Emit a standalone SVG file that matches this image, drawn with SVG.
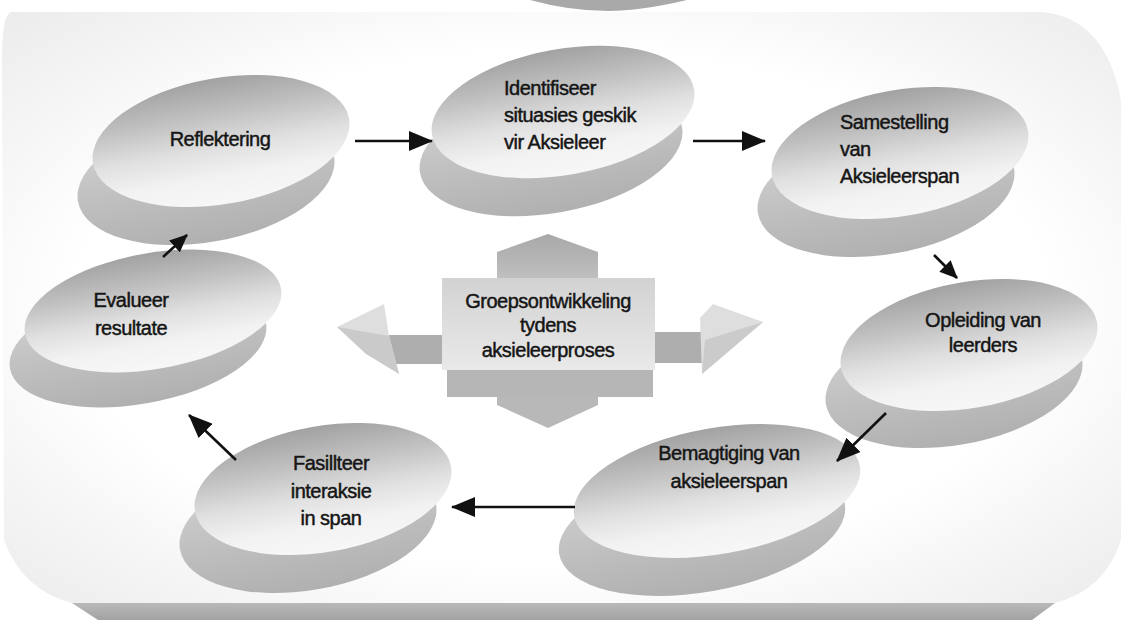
<svg xmlns="http://www.w3.org/2000/svg" width="1121" height="620" viewBox="0 0 1121 620">
<style>
  .lbl { font-family: "Liberation Sans", Arial, sans-serif; font-size: 20px; fill: #151515; stroke: #151515; stroke-width: 0.45; letter-spacing: -0.5px; }
  .mid { text-anchor: middle; }
  .conn { stroke: #111; stroke-width: 2.6; fill: none; }
  .side { fill: url(#gSide); }
  .top { fill: url(#gTop); }
</style>
<defs>
  <radialGradient id="gPlat" cx="50%" cy="50%" r="70%">
    <stop offset="0.62" stop-color="#ffffff"/>
    <stop offset="0.85" stop-color="#f3f3f3"/>
    <stop offset="1" stop-color="#ececec"/>
  </radialGradient>
  <linearGradient id="gBand" x1="0" y1="0" x2="0" y2="1">
    <stop offset="0" stop-color="#b9b9b9"/>
    <stop offset="1" stop-color="#a2a2a2"/>
  </linearGradient>
  <linearGradient id="gTop" x1="0" y1="0" x2="0" y2="1">
    <stop offset="0" stop-color="#a2a2a2"/>
    <stop offset="0.3" stop-color="#c2c2c2"/>
    <stop offset="0.55" stop-color="#e0e0e0"/>
    <stop offset="0.78" stop-color="#f2f2f2"/>
    <stop offset="1" stop-color="#f7f7f7"/>
  </linearGradient>
  <linearGradient id="gSide" x1="0" y1="0" x2="0" y2="1">
    <stop offset="0" stop-color="#d2d2d2"/>
    <stop offset="0.6" stop-color="#bdbdbd"/>
    <stop offset="1" stop-color="#b0b0b0"/>
  </linearGradient>
  <linearGradient id="gBox" x1="0" y1="0" x2="0" y2="1">
    <stop offset="0" stop-color="#d2d2d2"/>
    <stop offset="1" stop-color="#e9e9e9"/>
  </linearGradient>
  <linearGradient id="gUp" x1="0" y1="0" x2="0" y2="1">
    <stop offset="0" stop-color="#a8a8a8"/>
    <stop offset="1" stop-color="#c0c0c0"/>
  </linearGradient>
  <marker id="ahBig" viewBox="0 0 24 20" markerWidth="24" markerHeight="20" refX="23" refY="10" orient="auto" markerUnits="userSpaceOnUse">
    <path d="M0,0 L24,10 L0,20 Z" fill="#111"/>
  </marker>
  <marker id="ahSmall" viewBox="0 0 18 16" markerWidth="18" markerHeight="16" refX="17" refY="8" orient="auto" markerUnits="userSpaceOnUse">
    <path d="M0,0 L18,8 L0,16 Z" fill="#111"/>
  </marker>
</defs>

<rect x="0" y="0" width="1121" height="620" fill="#ffffff"/>

<!-- background platform -->
<g id="platform">
  <path d="M 12 12 L 1040 12 Q 1105 16 1121 100 L 1121 540 Q 1105 590 1055 603 L 72 603 Q 22 590 4 540 L 2 60 Q 2 12 12 12 Z" fill="url(#gPlat)"/>
  <path d="M 72 603 L 1055 603 L 1032 620 L 98 620 Z" fill="url(#gBand)"/>
  <path d="M 530 0 L 687 0 Q 640 11 608 11 Q 570 11 530 0 Z" fill="#a9a9a9"/>
</g>

<g id="node-reflektering">
  <ellipse class="side" cx="206" cy="179" rx="130" ry="63" transform="rotate(-10 206 179)"/>
  <ellipse class="top" cx="221" cy="141" rx="130" ry="63" transform="rotate(-10 221 141)"/>
  <text class="lbl mid" x="220" y="146">Reflektering</text>
</g>

<g id="node-identifiseer">
  <ellipse class="side" cx="551" cy="150" rx="133" ry="63" transform="rotate(-10 551 150)"/>
  <ellipse class="top" cx="563" cy="112" rx="133" ry="63" transform="rotate(-10 563 112)"/>
  <text class="lbl" x="504" y="95">Identifiseer</text>
  <text class="lbl" x="504" y="122">situasies geskik</text>
  <text class="lbl" x="504" y="149">vir Aksieleer</text>
</g>

<g id="node-samestelling">
  <ellipse class="side" cx="886" cy="191" rx="130" ry="63" transform="rotate(-10 886 191)"/>
  <ellipse class="top" cx="900" cy="153" rx="130" ry="63" transform="rotate(-10 900 153)"/>
  <text class="lbl" x="840" y="129">Samestelling</text>
  <text class="lbl" x="840" y="156">van</text>
  <text class="lbl" x="840" y="183">Aksieleerspan</text>
</g>

<g id="node-opleiding">
  <ellipse class="side" cx="954" cy="382" rx="130" ry="63" transform="rotate(-10 954 382)"/>
  <ellipse class="top" cx="969" cy="345" rx="130" ry="63" transform="rotate(-10 969 345)"/>
  <text class="lbl mid" x="983" y="327">Opleiding van</text>
  <text class="lbl mid" x="983" y="352">leerders</text>
</g>

<g id="node-bemagtiging">
  <ellipse class="side" cx="702" cy="529" rx="145" ry="63" transform="rotate(-10 702 529)"/>
  <ellipse class="top" cx="717" cy="491" rx="145" ry="63" transform="rotate(-10 717 491)"/>
  <text class="lbl mid" x="729" y="460">Bemagtiging van</text>
  <text class="lbl mid" x="729" y="488">aksieleerspan</text>
</g>

<g id="node-fasiliteer">
  <ellipse class="side" cx="308" cy="527" rx="130" ry="63" transform="rotate(-10 308 527)"/>
  <ellipse class="top" cx="323" cy="489" rx="130" ry="63" transform="rotate(-10 323 489)"/>
  <text class="lbl mid" x="331" y="470">Fasillteer</text>
  <text class="lbl mid" x="331" y="498">interaksie</text>
  <text class="lbl mid" x="331" y="525">in span</text>
</g>

<g id="node-evalueer">
  <ellipse class="side" cx="138" cy="346" rx="130" ry="58" transform="rotate(-10 138 346)"/>
  <ellipse class="top" cx="153" cy="311" rx="130" ry="58" transform="rotate(-10 153 311)"/>
  <text class="lbl mid" x="131" y="307">Evalueer</text>
  <text class="lbl mid" x="131" y="335">resultate</text>
</g>

<g id="node-groepsontwikkeling">
  <polygon points="497,280 497,252 548,234 598,252 598,280" fill="url(#gUp)"/>
  <rect x="387" y="335" width="58" height="29" fill="#aeaeae"/>
  <polygon points="337,327 384,304 389,336 399,374" fill="#dedede"/>
  <polygon points="337,327 389,336 399,374 366,354" fill="#cacaca"/>
  <rect x="652" y="332" width="56" height="31" fill="#aeaeae"/>
  <polygon points="700,318 713,304 763,322 702,374" fill="#dedede"/>
  <polygon points="763,322 705,340 702,374" fill="#cbcbcb"/>
  <polygon points="497,395 497,405 548,428 598,405 598,395" fill="#b8b8b8"/>
  <rect x="447" y="368" width="206" height="29" fill="#b6b6b6"/>
  <rect x="442" y="278" width="213" height="92" fill="url(#gBox)"/>
  <text class="lbl mid" x="548" y="308">Groepsontwikkeling</text>
  <text class="lbl mid" x="548" y="332">tydens</text>
  <text class="lbl mid" x="548" y="357">aksieleerproses</text>
</g>

<!-- connectors -->
<g id="connectors">
  <line class="conn" x1="355" y1="141" x2="432" y2="141" marker-end="url(#ahBig)"/>
  <line class="conn" x1="693" y1="141" x2="765" y2="141" marker-end="url(#ahBig)"/>
  <line class="conn" x1="934" y1="255" x2="957" y2="278" marker-end="url(#ahSmall)"/>
  <line class="conn" x1="886" y1="413" x2="837" y2="461" marker-end="url(#ahBig)"/>
  <line class="conn" x1="575" y1="507" x2="452" y2="507" marker-end="url(#ahBig)"/>
  <line class="conn" x1="236" y1="460" x2="189" y2="415" marker-end="url(#ahBig)"/>
  <line class="conn" x1="163" y1="257" x2="187" y2="235" marker-end="url(#ahSmall)"/>
</g>
</svg>
